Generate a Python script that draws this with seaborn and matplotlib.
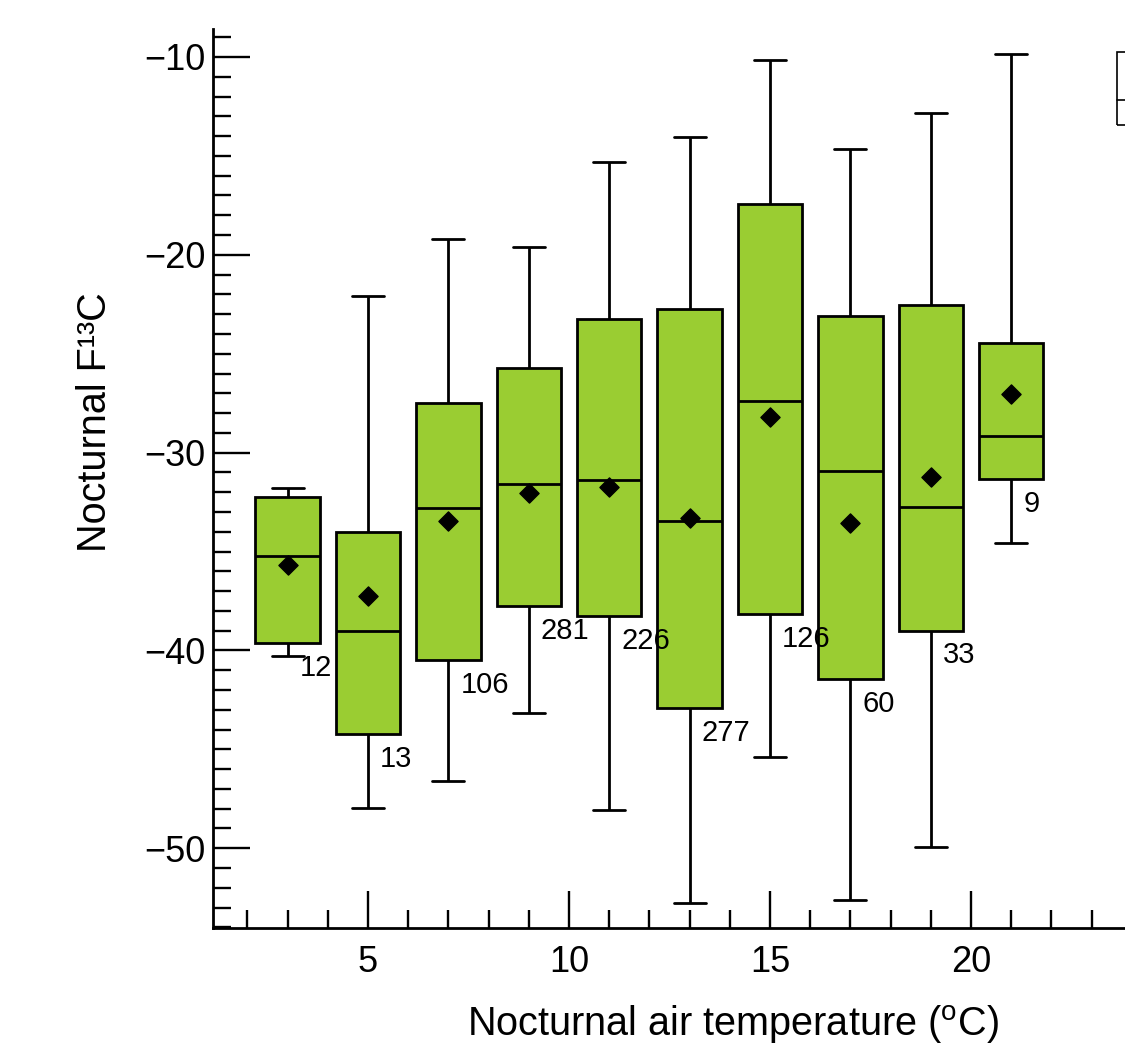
import numpy as np
import pandas as pd
import matplotlib
matplotlib.use("Agg")
import matplotlib.pyplot as plt
from matplotlib.ticker import MultipleLocator, FixedLocator
from matplotlib.patches import Rectangle
from matplotlib.lines import Line2D
import seaborn as sns

# ---- data ----
temps = [3, 5, 7, 9, 11, 13, 15, 17, 19, 21]
whisk_low = [-40.27, -47.98, -46.59, -43.18, -48.09, -52.77, -45.37, -52.62, -49.94, -34.55]
q1 = [-39.64, -44.24, -40.50, -37.76, -38.26, -42.90, -38.16, -41.46, -39.00, -31.33]
median = [-35.21, -39.00, -32.80, -31.59, -31.39, -33.44, -27.38, -30.91, -32.73, -29.16]
q3 = [-32.26, -34.00, -27.48, -25.71, -23.23, -22.74, -17.45, -23.09, -22.54, -24.48]
whisk_high = [-31.77, -22.08, -19.20, -19.62, -15.33, -14.04, -10.15, -14.63, -12.83, -9.85]
means = [-35.67, -37.25, -33.44, -32.06, -31.76, -33.32, -28.22, -33.54, -31.25, -27.04]
counts = [12, 13, 106, 281, 226, 277, 126, 60, 33, 9]

x_ticks = [5, 10, 15, 20]
y_ticks = [-50, -40, -30, -20, -10]
x_label = r"Nocturnal air temperature ($^{\mathrm{o}}$C)"
y_label = "Nocturnal F¹³C"

# five-number table: with 5 values per group the quartiles equal the listed values
rows = []
for t, a, b, c, d, e in zip(temps, whisk_low, q1, median, q3, whisk_high):
    for v in (a, b, c, d, e):
        rows.append({"temp": t, "value": v})
df = pd.DataFrame(rows)

sns.set_style("ticks")
plt.rcParams["font.family"] = ["Liberation Sans", "DejaVu Sans"]
plt.rcParams["mathtext.fontset"] = "custom"
plt.rcParams["mathtext.rm"] = "Liberation Sans"
plt.rcParams["mathtext.it"] = "Liberation Sans:italic"
plt.rcParams["mathtext.bf"] = "Liberation Sans:bold"
plt.rcParams["text.color"] = "black"
plt.rcParams["axes.labelcolor"] = "black"

fig = plt.figure(figsize=(11.25, 10.52), dpi=100)
W, H = 1125.0, 1052.0
ax = fig.add_axes([213 / W, (H - 928) / H, (1252.4 - 213) / W, (928 - 29.3) / H])

green = "#9ACD32"
sns.boxplot(data=df, x="temp", y="value", native_scale=True, whis=(0, 100),
            width=0.8, color=green, saturation=1, linecolor="black",
            linewidth=2.0, showfliers=False, ax=ax)

sns.scatterplot(x=temps, y=means, marker="D", s=95, color="black",
                edgecolor="black", linewidth=1, zorder=10, ax=ax, legend=False)

for t, lo, n in zip(temps, q1, counts):
    ax.text(t + 0.3, lo - 1.25, str(n), ha="left", va="center",
            fontsize=21, color="black")

ax.set_xlim(1.144, 27.0)
ax.set_ylim(-54.03, -8.6)
ax.xaxis.set_major_locator(FixedLocator(x_ticks))
ax.xaxis.set_minor_locator(MultipleLocator(1))
ax.yaxis.set_major_locator(FixedLocator(y_ticks))
ax.yaxis.set_minor_locator(MultipleLocator(1))

for s in ("top", "right"):
    ax.spines[s].set_visible(False)
for s in ("left", "bottom"):
    ax.spines[s].set_linewidth(2.0)
    ax.spines[s].set_color("black")

ax.tick_params(which="major", direction="in", length=26.5, width=1.7,
               labelsize=26, color="black", labelcolor="black")
ax.tick_params(which="minor", direction="in", length=13, width=1.7, color="black")
ax.tick_params(axis="y", which="major", pad=5.5)
ax.tick_params(axis="x", which="major", pad=12.5)

ax.set_xlabel(x_label, fontsize=28.5, color="black")
ax.set_ylabel(y_label, fontsize=28.5, color="black")
ax.xaxis.label.set_va("center")
ax.xaxis.set_label_coords(0.5, -(1025 - 928) / (928 - 29.3))
ax.yaxis.label.set_va("center")
ax.yaxis.label.set_ha("center")
ax.yaxis.set_label_coords((95 - 213) / (1252.4 - 213), (928 - 422) / (928 - 29.3))

# partially visible legend frame at the right edge
fig.add_artist(Rectangle((1117 / W, 1 - 125 / H), 40 / W, 73 / H,
                         transform=fig.transFigure, fill=False,
                         edgecolor="black", linewidth=1.2))
fig.add_artist(Line2D([1117 / W, 1.0], [1 - 100 / H, 1 - 100 / H],
                      transform=fig.transFigure, color="black", linewidth=1.2))

fig.savefig("out.png", dpi=100)
